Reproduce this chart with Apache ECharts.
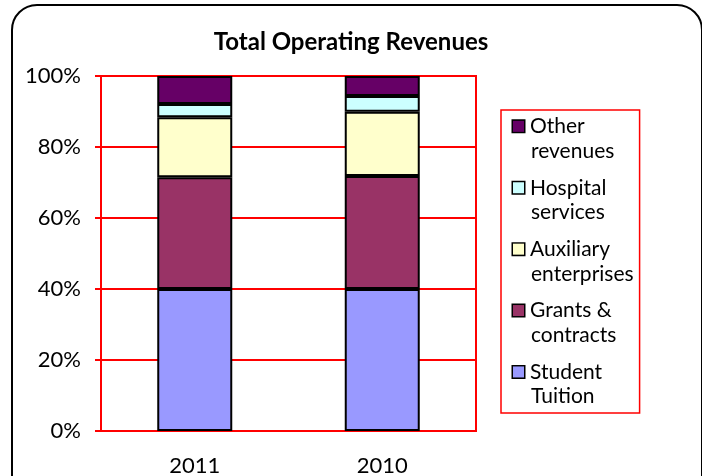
<!DOCTYPE html>
<html>
<head>
<meta charset="utf-8">
<script src="https://cdn.jsdelivr.net/npm/echarts@6/dist/echarts.min.js"></script>
<style>
  html, body { margin: 0; padding: 0; background: #fff; overflow: hidden; }
  #frame {
    position: absolute; left: 11px; top: 4px; width: 688px; height: 500px;
    border: 2px solid #000; border-radius: 26px;
  }
  #main { position: absolute; left: 0; top: 0; width: 702px; height: 476px; }
</style>
</head>
<body>
<div id="frame"></div>
<div id="main"></div>
<script>
// data (percent of total)
var years = ['2011', '2010'];
var tuition = [40.0, 40.0];
var grants = [31.5, 31.8];
var auxiliary = [16.9, 18.1];
var hospital = [3.7, 4.5];
var other = [7.9, 5.6];
var yTicks = [0, 20, 40, 60, 80, 100];

var seriesNames = ['Student Tuition', 'Grants & contracts', 'Auxiliary enterprises', 'Hospital services', 'Other revenues'];
var legendLines = [['Student', 'Tuition'], ['Grants &', 'contracts'], ['Auxiliary', 'enterprises'], ['Hospital', 'services'], ['Other', 'revenues']];
var colors = ['#9999FF', '#993366', '#FFFFCC', '#CCFFFF', '#660066'];
var values = [tuition, grants, auxiliary, hospital, other];

var font = 'Lato';

var rich = {
  g: { width: 6 },
  s: { width: 18 },
  t: { fontFamily: font, fontSize: 21, color: '#000', lineHeight: 24.7, width: 101 }
};
colors.forEach(function (c, i) {
  rich['m' + i] = { width: 11, height: 11, backgroundColor: c, borderColor: '#000', borderWidth: 1.5 };
});

var series = seriesNames.map(function (name, i) {
  return {
    name: name,
    type: 'bar',
    stack: 'total',
    barWidth: '40%',
    data: values[i],
    itemStyle: { color: colors[i], borderColor: '#000', borderWidth: 2 },
    emphasis: { disabled: true }
  };
});

var chart = echarts.init(document.getElementById('main'));
chart.setOption({
  animation: false,
  title: {
    text: 'Total Operating Revenues',
    left: 'center',
    top: 25,
    textStyle: { fontFamily: font, fontSize: 24, fontWeight: 'bold', color: '#000' }
  },
  legend: {
    orient: 'vertical',
    left: 501,
    top: 110,
    padding: [4, 6, 4, 6],
    itemGap: 12,
    itemWidth: 0,
    itemHeight: 0,
    itemStyle: { opacity: 0 },
    borderColor: '#FF0000',
    borderWidth: 1.5,
    selectedMode: false,
    data: seriesNames.slice().reverse(),
    formatter: function (name) {
      var i = seriesNames.indexOf(name);
      var l = legendLines[i];
      return '{m' + i + '|}{g|}{t|' + l[0] + '}\n{s|}{t|' + l[1] + '}';
    },
    textStyle: { rich: rich, lineHeight: 24.7 }
  },
  grid: {
    left: 101, right: 226, top: 76, bottom: 45,
    outerBoundsMode: 'none',
    show: true, borderColor: '#FF0000', borderWidth: 2
  },
  xAxis: {
    type: 'category',
    data: years,
    axisLine: { lineStyle: { color: '#FF0000', width: 2 } },
    axisTick: { show: false },
    axisLabel: { fontFamily: font, fontSize: 22, color: '#000', margin: 24 }
  },
  yAxis: {
    type: 'value',
    min: yTicks[0],
    max: yTicks[yTicks.length - 1],
    interval: yTicks[1] - yTicks[0],
    axisLine: { show: true, lineStyle: { color: '#FF0000', width: 2 } },
    axisTick: { show: true, length: 6, lineStyle: { color: '#FF0000', width: 2 } },
    splitLine: { lineStyle: { color: '#FF0000', width: 2 } },
    axisLabel: { fontFamily: font, fontSize: 22, color: '#000', margin: 20, formatter: '{value}%' }
  },
  series: series
});
</script>
</body>
</html>
